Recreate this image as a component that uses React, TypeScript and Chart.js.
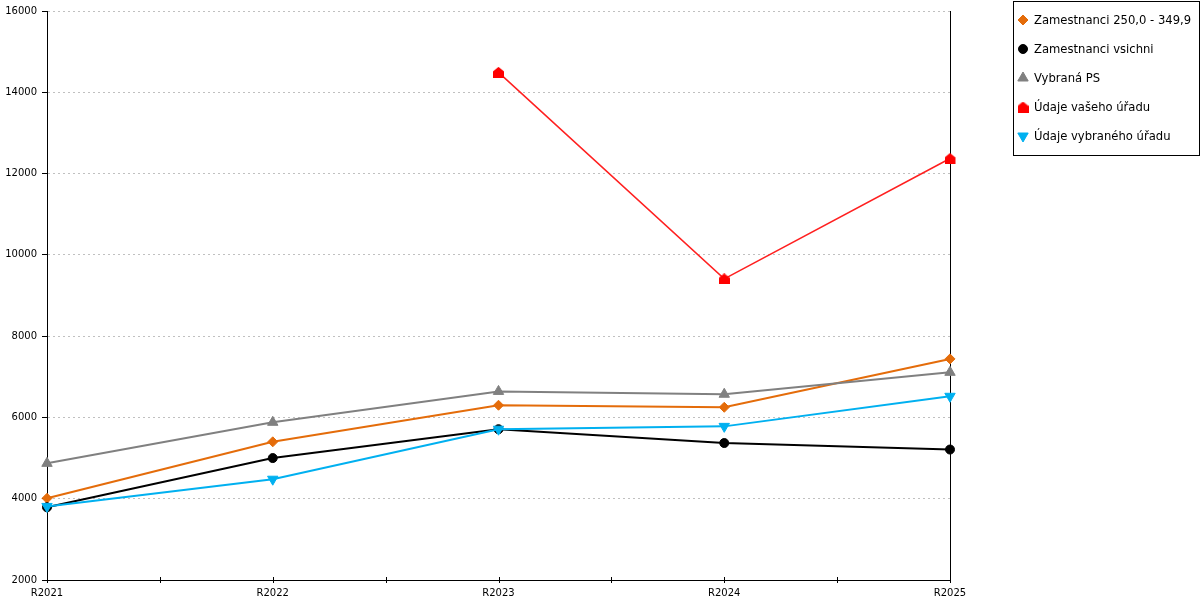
import React, { useEffect, useRef } from "react";
import { Chart, registerables } from "chart.js";
import { drawPoint } from "chart.js/helpers";

Chart.register(...registerables);

const years = ["R2021", "R2022", "R2023", "R2024", "R2025"];
const seriesNames = [
  "Zamestnanci 250,0 - 349,9",
  "Zamestnanci vsichni",
  "Vybraná PS",
  "Údaje vašeho úřadu",
  "Údaje vybraného úřadu"
];
const zamestnanci250 = [4010, 5400, 6300, 6250, 7440];
const zamestnanciVsichni = [3790, 5000, 5710, 5370, 5210];
const vybranaPS = [4870, 5880, 6640, 6570, 7110];
const vasUrad = [null, null, 14490, 9410, 12370];
const vybranyUrad = [3810, 4480, 5710, 5780, 6520];
const yMin = 2000;
const yMax = 16000;
const yStep = 2000;

// red "house" marker, the library has no such point style
function makeHouse(color: string) {
  const c = document.createElement("canvas");
  c.width = 11;
  c.height = 11;
  const g = c.getContext("2d")!;
  g.fillStyle = color;
  g.beginPath();
  g.moveTo(5.5, 0);
  g.lineTo(11, 4.5);
  g.lineTo(11, 11);
  g.lineTo(0, 11);
  g.lineTo(0, 4.5);
  g.closePath();
  g.fill();
  return c;
}

// small ticks crossing the x axis, at categories and half way between them
const xTicks = {
  id: "xTicks",
  afterDraw(chart: any) {
    const { ctx, chartArea, scales } = chart;
    const x = scales.x;
    ctx.save();
    ctx.strokeStyle = "#000";
    ctx.lineWidth = 1;
    for (let i = 0; i < years.length; i++) {
      const px = x.getPixelForTick(i);
      const list = [px];
      if (i < years.length - 1) list.push((px + x.getPixelForTick(i + 1)) / 2);
      list.forEach((p) => {
        const xx = Math.round(p) + 0.5;
        ctx.beginPath();
        ctx.moveTo(xx, chartArea.bottom - 3);
        ctx.lineTo(xx, chartArea.bottom + 3);
        ctx.stroke();
      });
    }
    ctx.restore();
  }
};

const legendBox = {
  id: "legendBox",
  afterDraw(chart: any) {
    const { ctx, chartArea } = chart;
    const left = Math.round(chartArea.right) + 63;
    ctx.save();
    ctx.fillStyle = "#fff";
    ctx.fillRect(left + 0.5, 1.5, 186, 154);
    ctx.strokeStyle = "#000";
    ctx.lineWidth = 1;
    ctx.strokeRect(left + 0.5, 1.5, 186, 154);
    chart.data.datasets.forEach((ds: any, i: number) => {
      const y = 20 + i * 29;
      ctx.fillStyle = ds.pointBackgroundColor;
      ctx.strokeStyle = ds.pointBorderColor;
      drawPoint(
        ctx,
        {
          pointStyle: ds.pointStyle,
          rotation: ds.pointRotation || 0,
          radius: ds.pointRadius,
          borderWidth: ds.pointBorderWidth
        } as any,
        left + 10,
        y
      );
      ctx.fillStyle = "#000";
      ctx.font = "11.6px 'DejaVu Sans'";
      ctx.textBaseline = "middle";
      ctx.textAlign = "left";
      ctx.fillText(ds.label, left + 21, y + 1);
    });
    ctx.restore();
  }
};

const App: React.FC = () => {
  const canvasRef = useRef<HTMLCanvasElement>(null);

  useEffect(() => {
    let chart: Chart | null = null;
    const ctx = canvasRef.current?.getContext("2d");
    if (ctx) {
      Chart.defaults.font.family = "'DejaVu Sans'";
      Chart.defaults.font.size = 10;
      Chart.defaults.color = "#000";
      const house = makeHouse("#ff0000");
      chart = new Chart(ctx, {
        type: "line",
        data: {
          labels: years,
          datasets: [
            {
              label: seriesNames[0],
              data: zamestnanci250,
              borderColor: "#e46c0a",
              borderWidth: 2,
              pointStyle: "rectRot",
              pointRadius: 5,
              pointBackgroundColor: "#e46c0a",
              pointBorderColor: "#e46c0a",
              pointBorderWidth: 1,
              order: 4
            },
            {
              label: seriesNames[1],
              data: zamestnanciVsichni,
              borderColor: "#000000",
              borderWidth: 2,
              pointStyle: "circle",
              pointRadius: 4.5,
              pointBackgroundColor: "#000000",
              pointBorderColor: "#000000",
              pointBorderWidth: 1,
              order: 3
            },
            {
              label: seriesNames[2],
              data: vybranaPS,
              borderColor: "#808080",
              borderWidth: 2,
              pointStyle: "triangle",
              pointRadius: 6,
              pointBackgroundColor: "#808080",
              pointBorderColor: "#808080",
              pointBorderWidth: 1,
              order: 2
            },
            {
              label: seriesNames[3],
              data: vasUrad,
              borderColor: "#ff2020",
              borderWidth: 1.5,
              pointStyle: house as any,
              pointRadius: 5.5,
              pointBackgroundColor: "#ff0000",
              pointBorderColor: "#ff0000",
              pointBorderWidth: 0,
              order: 1
            },
            {
              label: seriesNames[4],
              data: vybranyUrad,
              borderColor: "#00b0f0",
              borderWidth: 2,
              pointStyle: "triangle",
              pointRotation: 180,
              pointRadius: 6,
              pointBackgroundColor: "#00b0f0",
              pointBorderColor: "#00b0f0",
              pointBorderWidth: 1,
              order: 0
            }
          ]
        },
        options: {
          responsive: false,
          animation: false,
          layout: { padding: { top: 10, right: 250, left: 0, bottom: 0 } },
          plugins: {
            legend: { display: false },
            tooltip: { enabled: false }
          },
          scales: {
            x: {
              offset: false,
              grid: { display: false, drawTicks: false },
              border: { display: true, color: "#000", width: 1 },
              ticks: { padding: 7, maxRotation: 0, autoSkip: false },
              afterFit: (s: any) => {
                s.height = 20;
              }
            },
            y: {
              min: yMin,
              max: yMax,
              ticks: {
                stepSize: yStep,
                padding: 5,
                callback: (v: any) => String(v)
              },
              grid: {
                color: "#c0c0c0",
                tickColor: "#000",
                tickLength: 5,
                tickBorderDash: []
              } as any,
              border: { display: true, color: "#000", width: 1, dash: [2, 3] },
              afterFit: (s: any) => {
                s.width = 47;
              }
            },
            y2: {
              position: "right",
              ticks: { display: false },
              grid: { drawOnChartArea: false, drawTicks: false },
              border: { display: true, color: "#000", width: 1 },
              afterFit: (s: any) => {
                s.width = 0;
              }
            }
          }
        },
        plugins: [xTicks, legendBox]
      });
    }
    return () => {
      if (chart) chart.destroy();
    };
  }, []);

  return (
    <div style={{ position: "fixed", left: 0, top: 0, width: 1200, height: 600, background: "#fff" }}>
      <canvas ref={canvasRef} width={1200} height={600} />
    </div>
  );
};

export default App;
